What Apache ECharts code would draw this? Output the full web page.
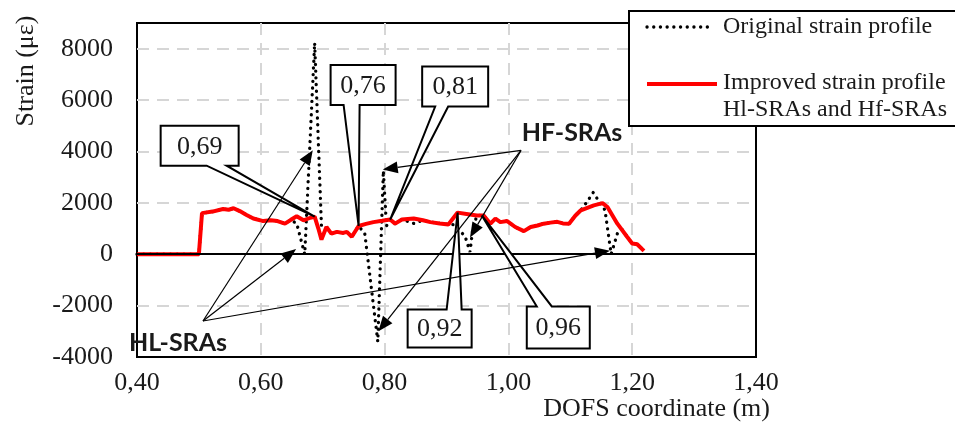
<!DOCTYPE html>
<html>
<head>
<meta charset="utf-8">
<title>Strain profile</title>
<script src="https://cdn.jsdelivr.net/npm/echarts@6/dist/echarts.min.js"></script>
<style>
    html, body { margin: 0; padding: 0; background: #fff; }
    #chart { width: 955px; height: 428px; }
</style>
</head>
<body>
<div id="chart"></div>
<script>
// [DOFS coordinate (m), strain (µε)]
const originalProfile = [
    [0.40, 0], [0.50, 0], [0.505, 1600], [0.522, 1660], [0.539, 1760], [0.548, 1730],
    [0.556, 1790], [0.566, 1680], [0.577, 1530], [0.588, 1390], [0.604, 1290], [0.616, 1320],
    [0.627, 1290], [0.639, 1190], [0.648, 1330], [0.658, 1200], [0.671, 0], [0.687, 8230],
    [0.698, 1100], [0.706, 1060], [0.714, 800], [0.723, 870], [0.733, 830], [0.739, 870],
    [0.747, 680], [0.758, 1100], [0.768, 800], [0.789, -3400], [0.798, 3250], [0.803, 1100],
    [0.809, 1350], [0.817, 1190], [0.828, 1350], [0.847, 1200], [0.862, 1320], [0.874, 1250],
    [0.889, 1200], [0.903, 1160], [0.912, 1150], [0.930, 700], [0.938, 90], [0.942, 900],
    [0.949, 1510], [0.960, 1510], [0.971, 1190], [0.979, 1390], [0.987, 1250], [0.998, 1290],
    [1.011, 1060], [1.025, 900], [1.036, 1060], [1.047, 1120], [1.057, 1190], [1.068, 1230],
    [1.079, 1260], [1.088, 1200], [1.098, 1190], [1.108, 1500], [1.117, 1710], [1.129, 2110],
    [1.137, 2400], [1.143, 2180], [1.156, 1720], [1.166, 0], [1.176, 800], [1.184, 950],
    [1.192, 670], [1.200, 420], [1.208, 390], [1.219, 130]
];
const improvedProfile = [
    [0.40, 0], [0.50, 0], [0.505, 1600], [0.522, 1660], [0.539, 1760], [0.548, 1730],
    [0.556, 1790], [0.566, 1680], [0.577, 1530], [0.588, 1390], [0.604, 1290], [0.616, 1320],
    [0.627, 1290], [0.639, 1190], [0.648, 1330], [0.658, 1480], [0.669, 1320], [0.680, 1420],
    [0.687, 1460], [0.693, 1000], [0.698, 570], [0.706, 1060], [0.714, 800], [0.723, 870],
    [0.733, 830], [0.739, 870], [0.747, 680], [0.758, 1100], [0.770, 1180], [0.782, 1250],
    [0.796, 1300], [0.809, 1350], [0.817, 1190], [0.828, 1350], [0.847, 1390], [0.862, 1320],
    [0.874, 1250], [0.889, 1200], [0.903, 1160], [0.918, 1620], [0.935, 1560], [0.949, 1510],
    [0.960, 1510], [0.971, 1190], [0.979, 1390], [0.987, 1250], [0.998, 1290], [1.011, 1060],
    [1.025, 900], [1.036, 1060], [1.047, 1120], [1.057, 1190], [1.068, 1230], [1.079, 1260],
    [1.088, 1200], [1.098, 1190], [1.108, 1500], [1.117, 1710], [1.138, 1900], [1.152, 1990],
    [1.160, 1840], [1.176, 1190], [1.192, 670], [1.200, 420], [1.208, 390], [1.219, 130]
];
const seriesNames = ['Original strain profile', 'Improved strain profile', 'Hl-SRAs and Hf-SRAs'];

// callouts: label and the point of the improved profile it points at
const calloutLabels = ['0,69', '0,76', '0,81', '0,92', '0,96'];
const calloutPoints = [[0.687, 1460], [0.758, 1100], [0.809, 1350], [0.918, 1620], [0.957, 1510]];

// SRA groups: where the arrows start and where they point
const groupLabels = ['HL-SRAs', 'HF-SRAs'];
const groupOrigins = [[0.5066, -2600], [1.0204, 4040]];
const groupTargets = [
    [[0.684, 4050], [0.657, 200], [1.164, 140]],
    [[0.797, 3300], [0.790, -3000], [0.938, 650]]
];

const SERIF = '"Liberation Serif", "Times New Roman", serif';
const TEXT = '#1a1a1a';

// box placement of each callout, relative to its tip (px)
const calloutLayout = [
    { dx: -154, dy: -91, w: 78, h: 40, side: 'bottom', w1: 46, w2: 66 },
    { dx: -28, dy: -161, w: 65, h: 40, side: 'bottom', w1: 13, w2: 29 },
    { dx: 32, dy: -153, w: 66, h: 40, side: 'bottom', w1: 13, w2: 26 },
    { dx: -50, dy: 97, w: 64, h: 38, side: 'top', w1: 39, w2: 54 },
    { dx: 45, dy: 91, w: 63, h: 42, side: 'top', w1: 10, w2: 25 }
];
const groupTextOffset = [[-25, 22], [51, -17]];

const chart = echarts.init(document.getElementById('chart'));

const dashed = { color: '#d6d6d6', width: 2, type: [12, 8] };

chart.setOption({
    animation: false,
    grid: {
        show: true,
        left: 137,
        right: 199,
        top: 23,
        bottom: 71,
        borderColor: '#000',
        borderWidth: 2
    },
    xAxis: {
        type: 'value',
        min: 0.4,
        max: 1.4,
        interval: 0.2,
        axisLine: { show: false },
        axisTick: { show: false },
        axisLabel: {
            margin: 13,
            fontFamily: SERIF,
            fontSize: 26,
            color: TEXT,
            formatter: (v) => v.toFixed(2).replace('.', ',')
        },
        splitLine: { show: true, showMinLine: false, showMaxLine: false, lineStyle: dashed }
    },
    yAxis: {
        type: 'value',
        min: -4000,
        max: 9000,
        interval: 2000,
        axisLine: { show: false },
        axisTick: { show: false },
        axisLabel: {
            margin: 24,
            fontFamily: SERIF,
            fontSize: 26,
            color: TEXT,
            formatter: (v) => (v > 8000 ? '' : String(v))
        },
        splitLine: { show: true, showMinLine: false, showMaxLine: false, lineStyle: dashed }
    },
    series: [
        {
            name: seriesNames[0],
            type: 'line',
            data: originalProfile,
            symbol: 'none',
            lineStyle: { color: '#000', width: 3.3, type: [0.1, 6.6], cap: 'round' },
            markLine: {
                silent: true,
                symbol: 'none',
                label: { show: false },
                lineStyle: { color: '#000', width: 2, type: 'solid' },
                data: [{ yAxis: 0 }]
            }
        },
        {
            name: seriesNames[1],
            type: 'line',
            data: improvedProfile,
            symbol: 'none',
            lineStyle: { color: '#ff0000', width: 4 }
        }
    ]
});

function arrow(from, to) {
    const dx = to[0] - from[0], dy = to[1] - from[1];
    const len = Math.hypot(dx, dy);
    const ux = dx / len, uy = dy / len;
    const hl = 15, hw = 6;
    const bx = to[0] - ux * hl, by = to[1] - uy * hl;
    return [
        {
            type: 'line', z: 25,
            shape: { x1: from[0], y1: from[1], x2: bx, y2: by },
            style: { stroke: '#000', lineWidth: 1.2 }
        },
        {
            type: 'polygon', z: 25,
            shape: { points: [to, [bx - uy * hw, by + ux * hw], [bx + uy * hw, by - ux * hw]] },
            style: { fill: '#000' }
        }
    ];
}

// callouts, arrows, legend and axis titles drawn on top of the grid
function annotations() {
    const px = (p) => chart.convertToPixel({ gridIndex: 0 }, p);
    const g = [];

    calloutLabels.forEach((label, i) => {
        const tip = px(calloutPoints[i]);
        const c = calloutLayout[i];
        const L = tip[0] + c.dx, T = tip[1] + c.dy, R = L + c.w, B = T + c.h;
        const pts = c.side === 'bottom'
            ? [[L, T], [R, T], [R, B], [L + c.w2, B], tip, [L + c.w1, B], [L, B]]
            : [[L, T], [L + c.w1, T], tip, [L + c.w2, T], [R, T], [R, B], [L, B]];
        g.push({
            type: 'polygon', z: 20,
            shape: { points: pts },
            style: { fill: '#fff', stroke: '#000', lineWidth: 2 }
        });
        g.push({
            type: 'text', z: 21,
            x: (L + R) / 2, y: (T + B) / 2 + 1,
            style: { text: label, font: '26px ' + SERIF, fill: TEXT, align: 'center', verticalAlign: 'middle' }
        });
    });

    groupLabels.forEach((label, i) => {
        const o = px(groupOrigins[i]);
        groupTargets[i].forEach((t) => g.push(...arrow(o, px(t))));
        g.push({
            type: 'text', z: 26,
            x: o[0] + groupTextOffset[i][0], y: o[1] + groupTextOffset[i][1],
            style: { text: label, font: 'bold 25px Lato, "Open Sans", sans-serif', fill: TEXT, align: 'center', verticalAlign: 'middle' }
        });
    });

    // legend
    g.push({
        type: 'rect', z: 30,
        shape: { x: 629, y: 11, width: 340, height: 115 },
        style: { fill: '#fff', stroke: '#000', lineWidth: 2 }
    });
    g.push({
        type: 'line', z: 31,
        shape: { x1: 647, y1: 27, x2: 712, y2: 27 },
        style: { stroke: '#000', lineWidth: 3.3, lineDash: [0.1, 6.6], lineCap: 'round' }
    });
    g.push({
        type: 'line', z: 31,
        shape: { x1: 647, y1: 84, x2: 717, y2: 84 },
        style: { stroke: '#ff0000', lineWidth: 4 }
    });
    [[seriesNames[0], 27], [seriesNames[1], 83], [seriesNames[2], 110]].forEach(([t, y]) => {
        g.push({
            type: 'text', z: 31, x: 723, y: y,
            style: { text: t, font: '24px ' + SERIF, fill: TEXT, align: 'left', verticalAlign: 'middle' }
        });
    });

    // axis titles
    g.push({
        type: 'text', z: 5, x: 26, y: 71, rotation: Math.PI / 2,
        style: { text: 'Strain (με)', font: '26px ' + SERIF, fill: TEXT, align: 'center', verticalAlign: 'middle' }
    });
    g.push({
        type: 'text', z: 5, x: 770, y: 409,
        style: { text: 'DOFS coordinate (m)', font: '26px ' + SERIF, fill: TEXT, align: 'right', verticalAlign: 'middle' }
    });
    return g;
}

chart.setOption({ graphic: annotations() });
</script>
</body>
</html>
